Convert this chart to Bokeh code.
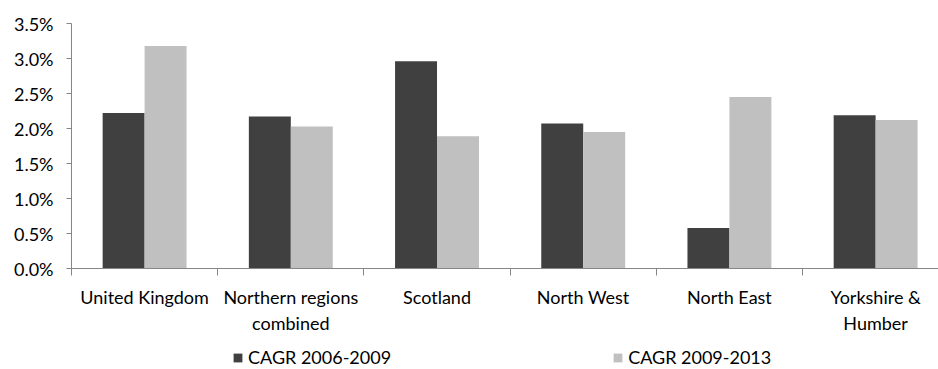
from bokeh.plotting import figure
from bokeh.layouts import column
from bokeh.models import (ColumnDataSource, FixedTicker, PrintfTickFormatter,
                          Legend, LegendItem, Range1d)
from bokeh.embed import file_html
from bokeh.resources import INLINE

# Compound annual growth rates by region (percent)
regions = ["United Kingdom", "Northern regions\ncombined", "Scotland",
           "North West", "North East", "Yorkshire &\nHumber"]
cagr_2006_2009 = [2.22, 2.17, 2.96, 2.07, 0.58, 2.19]
cagr_2009_2013 = [3.18, 2.03, 1.89, 1.95, 2.45, 2.12]
series_names = ["CAGR 2006-2009", "CAGR 2009-2013"]
y_ticks = [0.0, 0.5, 1.0, 1.5, 2.0, 2.5, 3.0, 3.5]

FONT = "Lato"
COLORS = ["#404040", "#c0c0c0"]
AXIS = "#868686"

n = len(regions)
centers = [i + 0.5 for i in range(n)]
bar_w = 0.287
src = ColumnDataSource(dict(
    x1=[c - bar_w / 2 for c in centers],
    x2=[c + bar_w / 2 for c in centers],
    a=cagr_2006_2009,
    b=cagr_2009_2013,
))

# main chart
p = figure(width=938, height=338, output_backend="svg", toolbar_location=None,
           x_range=Range1d(0, 5.93), y_range=Range1d(0, 3.5),
           min_border_left=71, min_border_top=23, min_border_right=0,
           min_border_bottom=70)
p.outline_line_color = None
p.xgrid.visible = False
p.ygrid.visible = False

p.vbar(x="x1", top="a", width=bar_w, source=src, fill_color=COLORS[0],
       line_color=None)
p.vbar(x="x2", top="b", width=bar_w, source=src, fill_color=COLORS[1],
       line_color=None)

# y axis
p.yaxis.ticker = FixedTicker(ticks=y_ticks)
p.yaxis.formatter = PrintfTickFormatter(format="%.1f%%")
p.yaxis.axis_line_color = AXIS
p.yaxis.major_tick_line_color = AXIS
p.yaxis.major_tick_out = 5
p.yaxis.major_tick_in = 0
p.yaxis.minor_tick_line_color = None
p.yaxis.major_label_text_font = FONT
p.yaxis.major_label_text_font_size = "18px"
p.yaxis.major_label_text_color = "#000000"
p.yaxis.major_label_standoff = 13

# x axis: labels at category centres, tick marks at category boundaries
p.xaxis.ticker = FixedTicker(ticks=centers, minor_ticks=list(range(n + 1)))
p.xaxis.major_label_overrides = {c: lab for c, lab in zip(centers, regions)}
p.xaxis.axis_line_color = AXIS
p.xaxis.major_tick_line_color = None
p.xaxis.major_tick_out = 0
p.xaxis.major_tick_in = 0
p.xaxis.minor_tick_line_color = AXIS
p.xaxis.minor_tick_out = 7
p.xaxis.minor_tick_in = 0
p.xaxis.major_label_text_font = FONT
p.xaxis.major_label_text_font_size = "18px"
p.xaxis.major_label_text_color = "#000000"
p.xaxis.major_label_standoff = 10
p.xaxis.major_label_text_line_height = 1.2

# legend strip below the chart (its frame lines up with the chart's frame);
# the key renderers hold a single NaN row so they draw nothing themselves
leg = figure(width=938, height=31, output_backend="svg", toolbar_location=None,
             x_range=Range1d(0, 1), y_range=Range1d(0, 1),
             min_border=0)
leg.outline_line_color = None
leg.axis.visible = False
leg.grid.visible = False
nan = float("nan")
items = []
for name, color in zip(series_names, COLORS):
    r = leg.quad(left=[nan], right=[nan], top=[nan], bottom=[nan],
                 fill_color=color, line_color=None)
    items.append(LegendItem(label=name, renderers=[r]))
legend = Legend(items=items, orientation="horizontal", location=(161, 1),
                spacing=221, padding=0, margin=0,
                glyph_width=11, glyph_height=11, label_standoff=5,
                label_text_font=FONT, label_text_font_size="18px",
                label_text_color="#000000",
                border_line_color=None, background_fill_alpha=0)
leg.add_layout(legend, "center")

page = column(p, leg, spacing=0)
open("out.html", "w").write(file_html(page, INLINE))
